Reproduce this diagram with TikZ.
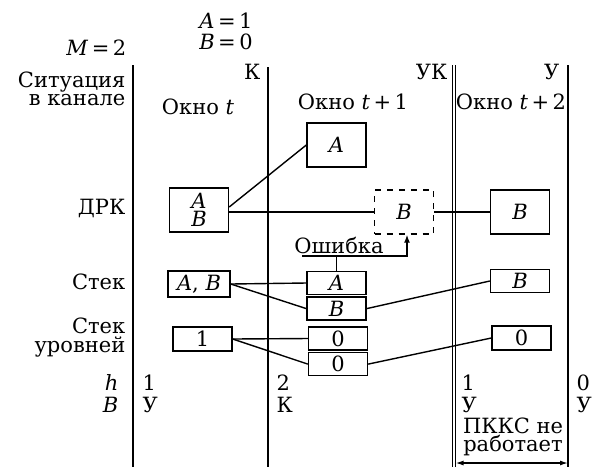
\documentclass[tikz,border=0pt]{standalone}
\usepackage{fontspec}
\setmainfont{DejaVu Serif}
\usetikzlibrary{arrows.meta}
\newcommand\mv[1]{\textit{#1}}
\tikzset{
  every node/.style={font=\fontsize{10.5}{12}\selectfont},
  bigbox/.style={draw, minimum width=29.5pt, minimum height=22pt, inner sep=0pt, align=center},
  cell/.style={draw, minimum width=29.5pt, minimum height=11.5pt, inner sep=0pt},
  lbl/.style={anchor=east, align=right, inner sep=0pt},
  val/.style={anchor=west, inner sep=0pt},
}
\begin{document}
\begin{tikzpicture}[x=0.5pt, y=-0.5pt, line width=0.7pt]
  \useasboundingbox (0,0) rectangle (608,467);
  % window borders
  \draw (133,65) -- (133,467);
  \draw (268,67) -- (268,467);
  \draw (452.5,65) -- (452.5,467);
  \draw (455.5,65) -- (455.5,467);
  \draw (568,65) -- (568,467);
  % header
  \node (va) at (226,21) {\mv{A}\,=\,1};
  \node (vb) at (226,42) {\mv{B}\,=\,0};
  \node[lbl] (m) at (127,48) {\mv{M}\,=\,2};
  \node[lbl] (sit) at (126,89) {Ситуация\\[-3pt]в канале};
  \node[lbl] (k1) at (261,72) {К};
  \node[lbl] (k2) at (448,72) {УК};
  \node[lbl] (k3) at (560,72) {У};
  \node (w1) at (198,107) {Окно \mv{t}};
  \node (w2) at (353,102) {Окно \mv{t}\,+\,1};
  \node (w3) at (511,102) {Окно \mv{t}\,+\,2};
  % row labels
  \node[lbl] (drk) at (126,208) {ДРК};
  \node[lbl] (stk) at (126,282) {Стек};
  \node[lbl] (lvl) at (126,338) {Стек\\[-2.5pt]уровней};
  \node[lbl] (hl) at (119,383) {\mv{h}};
  \node[lbl] (bl) at (119,405) {\mv{B}};
  % DRK row
  \node[bigbox] (ab) at (199,210) {\mv{A}\\[-3pt]\mv{B}};
  \node[bigbox] (a) at (336.5,145) {\mv{A}};
  \node[bigbox, dashed] (bd) at (404,212) {\mv{B}};
  \node[bigbox] (br) at (520,212) {\mv{B}};
  \draw ([yshift=1.5pt]ab.east) -- (a.west);
  \draw (ab.east |- bd.west) -- (bd.west);
  \draw (bd.east) -- (br.west);
  % error
  \node (err) at (339,245) {Ошибка};
  \coordinate (errl) at (302,256);
  % stack row
  \node[cell, minimum width=31pt, minimum height=13pt] (sab) at (199,284) {\mv{A}, \mv{B}};
  \node[cell] (sa) at (336.5,283) {\mv{A}};
  \node[cell, anchor=north] (sb) at ([yshift=-0.6pt]sa.south) {\mv{B}};
  \node[cell] (srb) at (520,281) {\mv{B}};
  \draw (sab.east) -- (sa.west);
  \draw (sab.east) -- (sb.west);
  \draw (sb.east) -- (srb.west);
  \draw[-{Latex[length=4pt,width=3pt]}] (errl) -| ([xshift=1.5pt]bd.south);
  \draw (sa.north) -- (sa.north |- errl);
  % level stack row
  \node[cell, minimum height=12pt] (l1) at (202.5,339) {1};
  \node[cell] (la) at (338,338.5) {0};
  \node[cell, anchor=north] (lb) at ([yshift=-0.6pt]la.south) {0};
  \node[cell, minimum height=12pt] (lr) at (521.5,338) {0};
  \draw (l1.east) -- (la.west);
  \draw (l1.east) -- (lb.west);
  \draw (lb.east) -- (lr.west);
  % h and B per window
  \node[val] (h1) at (142,383) {1};
  \node[val] (b1) at (142,405) {У};
  \node[val] (h2) at (276,383) {2};
  \node[val] (b2) at (276,405) {К};
  \node[val] (h3) at (461,383) {1};
  \node[val] (b3) at (461,405) {У};
  \node[val] (h4) at (576,383) {0};
  \node[val] (b4) at (576,405) {У};
  \node[align=center] (pkks) at (513,437) {ПККС не\\[-3pt]работает};
  \draw[{Latex[length=4pt,width=2.5pt]}-{Latex[length=4pt,width=2.5pt]}] (455.5,463) -- (568,463);
\end{tikzpicture}
\end{document}
